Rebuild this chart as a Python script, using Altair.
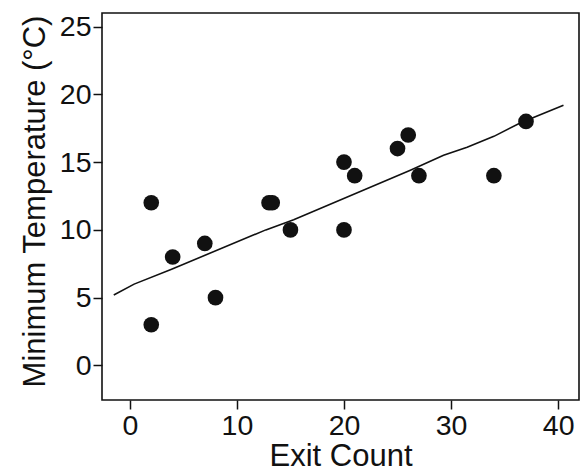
import altair as alt
import pandas as pd

# Observed exits vs minimum temperature
exit_count = [2, 2, 4, 7, 8, 13, 13.3, 15, 20, 20, 21, 25, 26, 27, 34, 37]
min_temp = [12, 3, 8, 9, 5, 12, 12, 10, 15, 10, 14, 16, 17, 14, 14, 18]

# Fitted trend line
fit_x = [-1.5, 0.4, 3.9, 12.7, 15.3, 26.2, 29.3, 31.5, 34.0, 36.5, 40.5]
fit_y = [5.2, 6.0, 7.1, 10.0, 10.75, 14.4, 15.5, 16.1, 16.9, 17.9, 19.2]

x_ticks = [0, 10, 20, 30, 40]
y_ticks = [0, 5, 10, 15, 20, 25]

points = pd.DataFrame({"exits": exit_count, "temp": min_temp})
fit = pd.DataFrame({"exits": fit_x, "temp": fit_y})

x_scale = alt.Scale(domain=[-2.6, 41.95], nice=False, zero=False)
y_scale = alt.Scale(domain=[-2.55, 26], nice=False, zero=False)

x_axis = alt.Axis(values=x_ticks, title="Exit Count")
y_axis = alt.Axis(values=y_ticks, title="Minimum Temperature (°C)", titleY=188)

line = alt.Chart(fit).mark_line(color="#111111", strokeWidth=1.6).encode(
    x=alt.X("exits:Q", scale=x_scale, axis=x_axis),
    y=alt.Y("temp:Q", scale=y_scale, axis=y_axis),
)

dots = alt.Chart(points).mark_circle(color="#111111", opacity=1, size=245).encode(
    x=alt.X("exits:Q", scale=x_scale, axis=x_axis),
    y=alt.Y("temp:Q", scale=y_scale, axis=y_axis),
)

chart = (
    alt.layer(line, dots)
    .properties(
        width=477,
        height=387,
        autosize=alt.AutoSizeParams(type="none"),
        padding={"left": 102, "top": 13, "right": 7, "bottom": 74},
        background="white",
    )
    .configure_view(stroke="#111111", strokeWidth=1.6)
    .configure_axis(
        grid=False,
        domain=False,
        ticks=True,
        tickColor="#111111",
        tickWidth=1.5,
        tickSize=9,
        labelFont="Liberation Sans",
        labelFontSize=28.5,
        labelColor="#111111",
        labelPadding=2,
        titleFont="Liberation Sans",
        titleFontSize=31,
        titleFontWeight="normal",
        titleColor="#111111",
    )
    .configure_axisX(titlePadding=2)
    .configure_axisY(titlePadding=8)
)

chart.save("out.html", embed_options={"renderer": "svg", "actions": False})
